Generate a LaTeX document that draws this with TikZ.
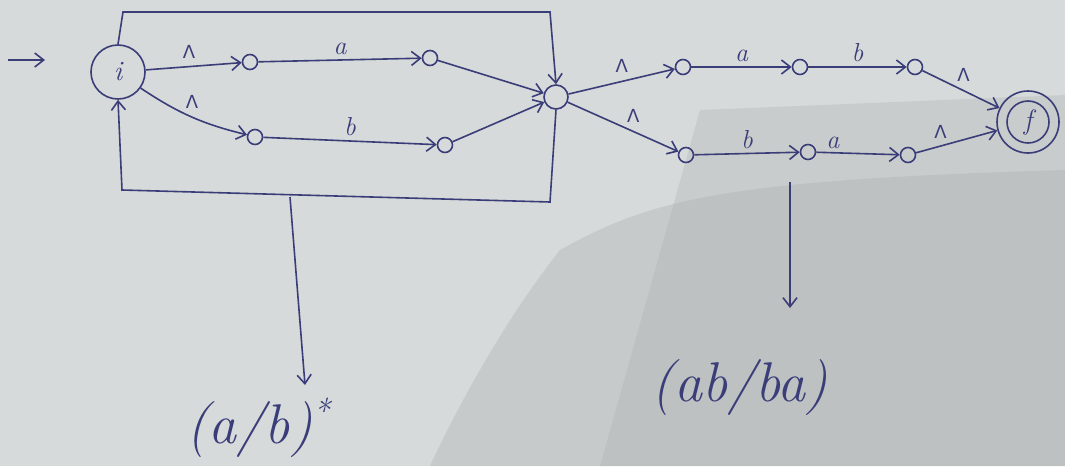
\documentclass[tikz,border=0pt]{standalone}
\usepackage{fontspec}
\newfontfamily\gk{DejaVu Sans}
\usetikzlibrary{arrows.meta,calc}
\definecolor{pen}{HTML}{3A3D78}
\definecolor{paper}{HTML}{D7DADA}
\definecolor{paperdark}{HTML}{A9AEAE}
\begin{document}
\begin{tikzpicture}[x=1pt,y=-1pt,
  ink/.style={draw=pen,line width=1.6pt},
  arr/.style={ink,-{Straight Barb[length=9pt,width=14pt,line width=1.6pt]}},
  st/.style={circle,draw=pen,line width=1.6pt,minimum size=15pt,inner sep=0pt},
  bigst/.style={circle,draw=pen,line width=1.6pt,minimum size=54pt,inner sep=0pt,text=pen,font=\fontsize{28}{28}\selectfont\itshape},
  lbl/.style={text=pen,font=\fontsize{26}{26}\selectfont\itshape},
  eps/.style={text=pen,font=\fontsize{18}{18}\selectfont\gk},
  big/.style={text=pen,font=\fontsize{56}{56}\selectfont\itshape}]
% paper
\useasboundingbox (0,0) rectangle (1065,466);
\fill[paper] (0,0) rectangle (1065,466);
\fill[paperdark,opacity=0.3] (700,110) -- (1065,95) -- (1065,466) -- (600,466) -- cycle;
\fill[paperdark,opacity=0.35] (560,250) .. controls (650,200) and (720,180) .. (1065,170) -- (1065,466) -- (430,466) .. controls (470,380) and (520,300) .. (560,250) -- cycle;

% start marker
\coordinate (s0) at (8,60);
\coordinate (s1) at (45,60);
\draw[arr] (s0) -- (s1);

% states
\node[bigst] (i) at (118,72) {i};
\node[st] (A) at (250,62) {};
\node[st] (B) at (430,58) {};
\node[st] (C) at (255,137) {};
\node[st] (D) at (445,145) {};
\node[st,minimum size=24pt] (H) at (556,97) {};
\node[st] (E) at (683,67) {};
\node[st] (F) at (800,67) {};
\node[st] (G) at (915,67) {};
\node[st] (J) at (686,155) {};
\node[st] (K) at (808,152) {};
\node[st] (L) at (908,155) {};
\node[bigst,minimum size=62pt] (f) at (1028,122) {};
\node[bigst,minimum size=42pt] (fin) at (1028,122) {f};

% (a|b) branch
\draw[arr] (i) -- (A) node[eps,pos=0.45,above=4pt] {Λ};
\draw[arr] (i) to[bend right=10] node[eps,pos=0.4,above right=0pt] {Λ} (C);
\draw[arr] (A) -- (B) node[lbl,midway,above=1pt] {a};
\draw[arr] (C) -- (D) node[lbl,midway,above=1pt] {b};
\draw[arr] (B) -- (H);
\draw[arr] (D) -- (H);

% star loop round the branch
\coordinate (lt) at (123,12);
\coordinate (rt) at (550,12);
\coordinate (rb) at (550,202);
\coordinate (lb) at (122,190);
\draw[arr] (i.north) -- (lt) -- (rt) -- (H.north);
\draw[arr] (H.south) -- (rb) -- (lb) -- (i.south);

% (ab|ba) branch
\draw[arr] (H) -- (E) node[eps,midway,above=5pt] {Λ};
\draw[arr] (H) -- (J) node[eps,midway,above right=0pt] {Λ};
\draw[arr] (E) -- (F) node[lbl,midway,above=1pt] {a};
\draw[arr] (F) -- (G) node[lbl,midway,above=1pt] {b};
\draw[arr] (G) -- (f) node[eps,pos=0.4,above right=0pt] {Λ};
\draw[arr] (J) -- (K) node[lbl,midway,above=1pt] {b};
\draw[arr] (K) -- (L) node[lbl,pos=0.2,above=0pt] {a};
\draw[arr] (L) -- (f) node[eps,pos=0.3,above=3pt] {Λ};

% results
\coordinate (m1) at (290,197);
\node[big] (r1) at (258,428) {(a/b)\raisebox{20pt}{\fontsize{34}{34}\selectfont *}};
\draw[arr] (m1) -- (305,385);
\coordinate (m2) at (740,388);
\node[big] (r2) at (740,388) {(ab/ba)};
\coordinate (m3) at (790,182);
\draw[arr] (m3) -- (790,308);
\end{tikzpicture}
\end{document}
